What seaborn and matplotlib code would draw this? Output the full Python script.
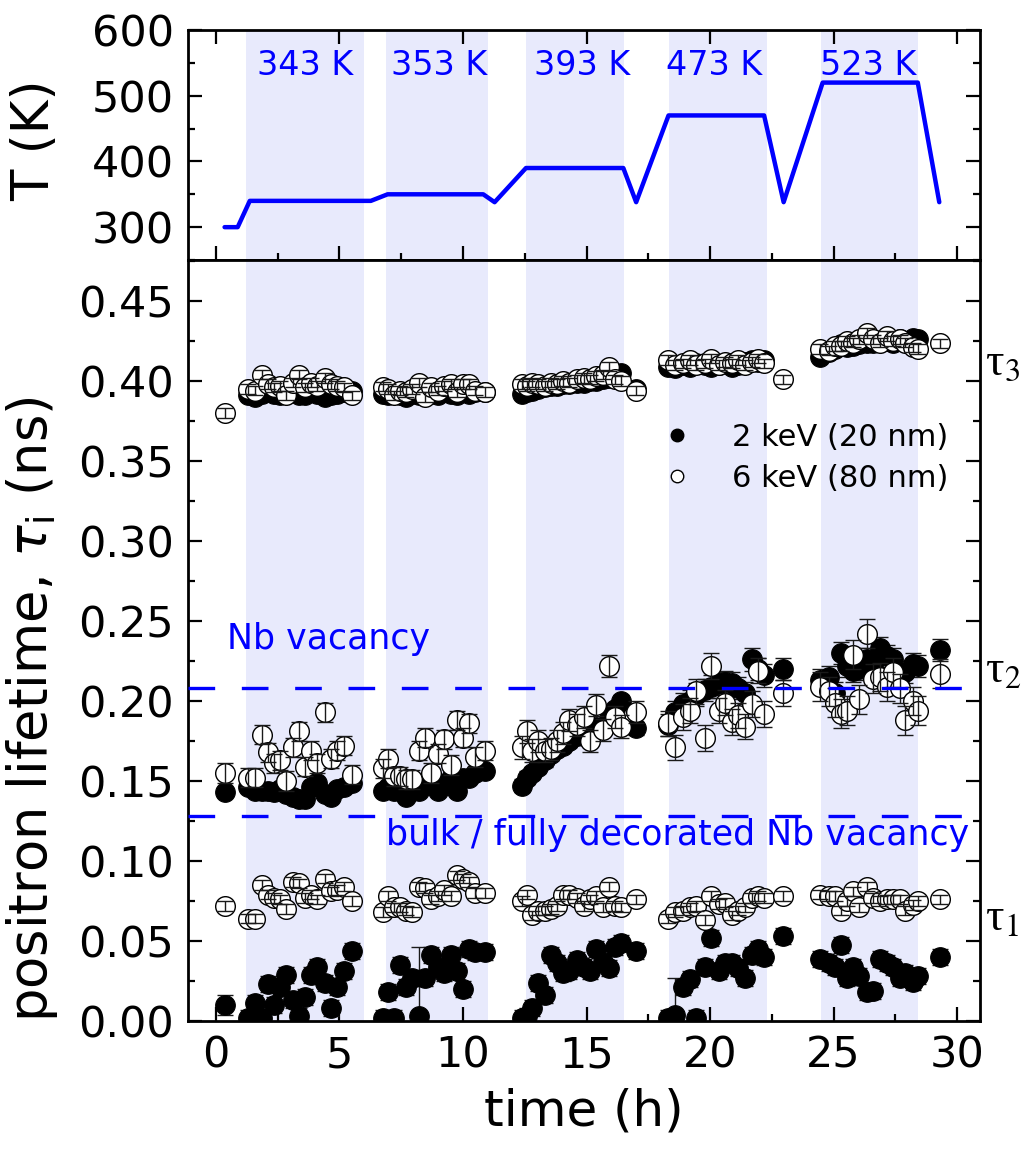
import numpy as np
import pandas as pd
import matplotlib
matplotlib.use("Agg")
import matplotlib.pyplot as plt
import seaborn as sns
from matplotlib.lines import Line2D
from matplotlib.ticker import MultipleLocator, FormatStrFormatter

nan = np.nan

# ---------------- data ----------------
# temperature programme (top panel)
temp_time = [0.35, 0.88, 1.37, 6.27, 6.95, 10.82, 11.28, 12.55, 16.49, 17.01,
             18.32, 22.19, 22.98, 24.56, 28.41, 29.28]
temp_K = [300, 300, 340, 340, 350, 350, 338, 390, 390, 338,
          470, 470, 338, 520, 520, 338]

band_start = [1.2, 6.9, 12.55, 18.35, 24.5]
band_end = [6.0, 11.0, 16.5, 22.3, 28.4]
band_label = ["343 K", "353 K", "393 K", "473 K", "523 K"]
band_label_x = [3.63, 9.02, 14.84, 20.16, 26.42]
band_label_T = 546

# measurement times (h), grouped by annealing segment
seg_len = [1, 17, 17, 18, 16, 17]
time_h = ([0.36] +
          [1.3, 1.6, 1.85, 2.1, 2.35, 2.6, 2.85, 3.1, 3.35, 3.6, 3.85, 4.1, 4.4, 4.65, 4.9, 5.2, 5.5] +
          [6.75, 6.95, 7.2, 7.45, 7.7, 7.95, 8.2, 8.45, 8.7, 9.0, 9.25, 9.5, 9.75, 10.0, 10.25, 10.5, 10.9] +
          [12.4, 12.6, 12.8, 13.05, 13.3, 13.55, 13.8, 14.05, 14.3, 14.6, 14.9, 15.15, 15.4, 15.65, 15.9, 16.15, 16.4, 17.0] +
          [18.3, 18.6, 18.9, 19.2, 19.45, 19.8, 20.05, 20.35, 20.6, 20.9, 21.15, 21.4, 21.7, 21.95, 22.2, 22.95] +
          [24.45, 24.8, 25.05, 25.3, 25.55, 25.8, 26.05, 26.35, 26.6, 26.9, 27.15, 27.4, 27.7, 27.9, 28.2, 28.4, 29.3])

tau1_6keV = ([0.072] +
             [0.064, 0.064, 0.085, 0.079, 0.077, 0.076, 0.070, 0.087, 0.086, 0.077, 0.079, 0.076, 0.089, 0.081, 0.082, 0.084, 0.075] +
             [0.068, 0.078, 0.071, 0.071, 0.069, 0.068, 0.084, 0.083, 0.076, 0.078, 0.082, 0.078, 0.091, 0.089, 0.087, 0.080, 0.080] +
             [0.075, 0.079, 0.066, 0.069, 0.069, 0.070, 0.072, 0.079, 0.079, 0.077, 0.072, 0.076, 0.078, 0.071, 0.084, 0.072, 0.071, 0.076] +
             [0.064, 0.068, 0.069, 0.071, 0.072, 0.063, 0.078, 0.073, 0.074, 0.066, 0.069, 0.071, 0.077, 0.078, 0.077, 0.078] +
             [0.079, 0.078, 0.078, 0.069, 0.075, 0.081, 0.071, 0.084, 0.077, 0.075, 0.076, 0.076, 0.076, 0.069, 0.0725, 0.075, 0.076])

tau1_2keV = ([0.010] +
             [0.002, 0.011, 0.002, 0.023, 0.010, 0.021, 0.029, 0.013, 0.003, 0.015, 0.029, 0.034, 0.024, 0.008, 0.021, 0.031, 0.044] +
             [0.002, 0.018, 0.002, 0.035, 0.021, 0.027, 0.003, 0.027, 0.041, 0.034, 0.030, 0.041, 0.031, 0.020, 0.045, 0.043, 0.043] +
             [0.002, 0.003, 0.008, 0.024, 0.016, 0.041, 0.036, 0.030, 0.031, 0.038, 0.034, 0.031, 0.045, 0.037, 0.033, 0.046, 0.049, 0.044] +
             [0.002, 0.004, 0.021, 0.026, 0.002, 0.034, 0.052, 0.031, 0.036, 0.036, 0.033, 0.027, 0.041, 0.045, 0.040, 0.053] +
             [0.039, 0.036, 0.034, 0.0475, 0.027, 0.034, 0.028, 0.018, 0.019, 0.039, 0.036, 0.034, 0.027, 0.030, 0.0245, 0.028, 0.040])

tau2_6keV = ([0.155] +
             [0.152, 0.152, 0.179, 0.168, 0.161, 0.163, 0.150, 0.171, 0.181, 0.159, 0.169, 0.161, 0.193, 0.164, 0.169, 0.172, 0.154] +
             [0.158, 0.164, 0.153, 0.153, 0.151, 0.151, 0.169, 0.177, 0.155, 0.167, 0.176, 0.160, 0.188, 0.177, 0.186, 0.165, 0.169] +
             [0.171, 0.181, 0.169, 0.175, 0.169, 0.170, 0.175, 0.180, 0.188, 0.185, 0.190, 0.175, 0.1975, 0.182, 0.222, 0.190, 0.184, 0.193] +
             [0.186, 0.171, 0.190, 0.194, 0.206, 0.177, 0.222, 0.194, 0.199, 0.187, 0.191, 0.184, 0.198, 0.219, 0.192, 0.205] +
             [0.209, 0.206, 0.199, 0.192, 0.194, 0.229, 0.201, 0.242, 0.214, 0.215, 0.209, 0.218, 0.208, 0.188, 0.200, 0.194, 0.217])

tau2_2keV = ([0.143] +
             [0.146, 0.144, 0.144, 0.144, 0.143, 0.145, 0.142, 0.140, 0.139, 0.139, 0.146, 0.149, 0.142, 0.140, 0.145, 0.146, 0.149] +
             [0.144, 0.146, 0.144, 0.144, 0.140, 0.146, 0.144, 0.149, 0.148, 0.144, 0.148, 0.152, 0.144, 0.152, 0.152, 0.155, 0.156] +
             [0.147, 0.152, 0.155, 0.159, 0.163, 0.167, 0.170, 0.172, 0.175, 0.178, 0.178, 0.180, 0.184, 0.184, 0.189, 0.195, 0.200, 0.183] +
             [0.185, 0.193, 0.198, 0.200, 0.204, 0.207, 0.209, 0.211, 0.212, 0.211, 0.208, 0.205, 0.226, 0.220, 0.216, 0.220] +
             [0.213, 0.215, 0.205, 0.230, 0.222, 0.219, 0.220, 0.226, 0.222, 0.233, 0.228, 0.226, 0.215, 0.218, 0.223, 0.222, 0.232])

tau3_6keV = ([0.380] +
             [0.395, 0.394, 0.404, 0.398, 0.396, 0.397, 0.391, 0.399, 0.404, 0.396, 0.399, 0.397, 0.402, 0.398, 0.397, 0.396, 0.391] +
             [0.3965, 0.395, 0.391, 0.394, 0.393, 0.395, 0.399, 0.390, 0.396, 0.394, 0.397, 0.398, 0.393, 0.398, 0.398, 0.394, 0.393] +
             [0.398, 0.397, 0.399, 0.398, 0.397, 0.399, 0.398, 0.400, 0.399, 0.401, 0.402, 0.401, 0.403, 0.404, 0.409, 0.401, 0.400, 0.394] +
             [0.413, 0.410, 0.411, 0.413, 0.410, 0.411, 0.414, 0.410, 0.412, 0.411, 0.413, 0.410, 0.412, 0.414, 0.411, 0.401] +
             [0.420, 0.419, 0.422, 0.422, 0.425, 0.424, 0.426, 0.430, 0.426, 0.424, 0.428, 0.425, 0.426, 0.424, 0.421, 0.420, 0.4235])

tau3_2keV = ([nan] +
             [0.391, 0.390, 0.392, 0.393, 0.392, 0.391, 0.392, 0.393, 0.391, 0.391, 0.393, 0.392, 0.390, 0.391, 0.392, 0.393, 0.394] +
             [0.392, 0.391, 0.392, 0.391, 0.390, 0.392, 0.391, 0.393, 0.392, 0.391, 0.393, 0.392, 0.391, 0.393, 0.392, 0.393, 0.393] +
             [0.392, 0.393, 0.394, 0.395, 0.396, 0.397, 0.397, 0.398, 0.398, 0.399, 0.399, 0.400, 0.400, 0.401, 0.402, 0.404, 0.405, 0.395] +
             [0.409, 0.408, 0.410, 0.409, 0.411, 0.410, 0.409, 0.410, 0.411, 0.409, 0.410, 0.412, 0.413, 0.412, 0.413, nan] +
             [0.415, 0.418, 0.420, 0.423, 0.421, 0.422, 0.423, 0.424, 0.424, 0.425, 0.425, 0.424, 0.426, 0.425, 0.427, 0.426, nan])

# typical error bar per segment (ns)
err_tau1_6keV = [0.003, 0.003, 0.003, 0.003, 0.003, 0.003]
err_tau1_2keV = [0.006, 0.005, 0.005, 0.005, 0.005, 0.005]
err_tau2_6keV = [0.006, 0.006, 0.006, 0.007, 0.008, 0.009]
err_tau2_2keV = [0.003, 0.003, 0.003, 0.004, 0.007, 0.007]
err_tau3_6keV = [0.003, 0.003, 0.003, 0.003, 0.003, 0.003]
err_tau3_2keV = [0.002, 0.002, 0.002, 0.002, 0.002, 0.002]
# individual large error bars of tau1 (2 keV)
big_err_index = [24, 54]
big_err_value = [0.043, 0.023]

nb_vacancy = 0.208
bulk_level = 0.128
tau_label_y = [0.064, 0.219, 0.411]

# ---------------- tidy table ----------------
def expand(seg_vals):
    return np.repeat(np.asarray(seg_vals, float), seg_len)

e1b = expand(err_tau1_2keV)
for i, v in zip(big_err_index, big_err_value):
    e1b[i] = v

rows = []
for comp, vals, errs, energy in [
        ("tau1", tau1_2keV, e1b, "2 keV"),
        ("tau2", tau2_2keV, expand(err_tau2_2keV), "2 keV"),
        ("tau3", tau3_2keV, expand(err_tau3_2keV), "2 keV"),
        ("tau1", tau1_6keV, expand(err_tau1_6keV), "6 keV"),
        ("tau2", tau2_6keV, expand(err_tau2_6keV), "6 keV"),
        ("tau3", tau3_6keV, expand(err_tau3_6keV), "6 keV")]:
    rows.append(pd.DataFrame({"time": time_h, "tau": vals, "err": errs,
                              "comp": comp, "energy": energy}))
df = pd.concat(rows, ignore_index=True)
df_temp = pd.DataFrame({"time": temp_time, "T": temp_K})

# ---------------- style ----------------
sns.set_style("ticks")
plt.rcParams["font.family"] = ["DejaVu Sans"]
plt.rcParams["mathtext.fontset"] = "dejavusans"
plt.rcParams["text.color"] = "black"
plt.rcParams["axes.labelcolor"] = "black"
plt.rcParams["xtick.color"] = "black"
plt.rcParams["ytick.color"] = "black"

band_color = "#e8eafc"
blue = "#0000ff"

fig = plt.figure(figsize=(10.23, 11.5), dpi=100)
ax_t = fig.add_axes([0.1838, 0.7739, 0.7742, 0.2000])
ax = fig.add_axes([0.1838, 0.1122, 0.7742, 0.6617], sharex=ax_t)

for a in (ax_t, ax):
    for s, e in zip(band_start, band_end):
        a.axvspan(s, e, color=band_color, lw=0, zorder=0)
    for sp in a.spines.values():
        sp.set_linewidth(2.0)
        sp.set_color("black")
    a.tick_params(which="both", direction="in", width=1.6, colors="black",
                  labelsize=31, right=True, pad=10)
    a.tick_params(which="major", length=10)
    a.tick_params(which="minor", length=5)

# ---- top panel: temperature ----
sns.lineplot(data=df_temp, x="time", y="T", ax=ax_t, color=blue, lw=3.2,
             estimator=None, sort=False, zorder=3)
for lab, xx in zip(band_label, band_label_x):
    ax_t.text(xx, band_label_T, lab, color=blue, fontsize=24,
              ha="center", va="center")
ax_t.set_ylim(250, 600)
ax_t.yaxis.set_major_locator(MultipleLocator(100))
ax_t.yaxis.set_minor_locator(MultipleLocator(50))
ax_t.set_yticks([300, 400, 500, 600])
ax_t.tick_params(top=True, bottom=True, labelbottom=False)
ax_t.set_ylabel("T (K)", fontsize=37, color="black")
ax_t.yaxis.set_label_coords(-0.162, 0.52)
ax_t.set_xlabel("")

# ---- bottom panel: lifetimes ----
blk = df[df.energy == "2 keV"]
wht = df[df.energy == "6 keV"]

ax.errorbar(blk.time, blk.tau, yerr=blk.err, fmt="none", ecolor="0.1",
            elinewidth=1.0, capsize=6, capthick=1.0, zorder=2)
sns.scatterplot(data=blk, x="time", y="tau", ax=ax, color="black",
                edgecolor="black", linewidth=0.8, s=200, zorder=3, legend=False)
sns.scatterplot(data=wht, x="time", y="tau", ax=ax, color="white",
                edgecolor="black", linewidth=1.0, s=200, zorder=4, legend=False)
ax.errorbar(wht.time, wht.tau, yerr=wht.err, fmt="none", ecolor="0.1",
            elinewidth=1.0, capsize=6, capthick=1.0, zorder=5)

ax.axhline(nb_vacancy, color=blue, lw=2.4, ls=(0, (8, 8)), zorder=6)
ax.axhline(bulk_level, color=blue, lw=2.4, ls=(0, (8, 8)), zorder=6)
ax.text(0.45, 0.239, "Nb vacancy", color=blue, fontsize=25,
        ha="left", va="center")
ax.text(6.9, 0.1165, "bulk / fully decorated Nb vacancy", color=blue,
        fontsize=25, ha="left", va="center", clip_on=False, zorder=7)

trans = ax.get_yaxis_transform()
for k, yy in enumerate(tau_label_y):
    ax.text(1.006, yy, "τ$_{%d}$" % (k + 1), transform=trans, fontsize=33,
            ha="left", va="center", family=["Liberation Serif", "DejaVu Serif"],
            math_fontfamily="stix", color="black")

handles = [Line2D([], [], ls="none", marker="o", mfc="black", mec="black", ms=9),
           Line2D([], [], ls="none", marker="o", mfc="white", mec="black",
                  mew=1.0, ms=9)]
leg = ax.legend(handles, ["2 keV (20 nm)", "6 keV (80 nm)"], loc="upper left",
                bbox_to_anchor=(0.583, 0.802), frameon=False, fontsize=22,
                handlelength=1.0, handletextpad=1.3, labelspacing=0.38,
                borderpad=0.4, borderaxespad=0)
for t in leg.get_texts():
    t.set_color("black")

ax.set_xlim(-1.13, 30.93)
ax.set_ylim(0, 0.4756)
ax.xaxis.set_major_locator(MultipleLocator(5))
ax.xaxis.set_minor_locator(MultipleLocator(2.5))
ax.yaxis.set_major_locator(MultipleLocator(0.05))
ax.yaxis.set_minor_locator(MultipleLocator(0.025))
ax.yaxis.set_major_formatter(FormatStrFormatter("%.2f"))
ax.tick_params(top=False)
ax.set_xlabel("time (h)", fontsize=36, labelpad=8, color="black")
ax.set_ylabel(r"positron lifetime, $\tau_\mathrm{i}$ (ns)", fontsize=38,
              color="black")
ax.yaxis.set_label_coords(-0.162, 0.41)

fig.savefig("out.png", dpi=100)
